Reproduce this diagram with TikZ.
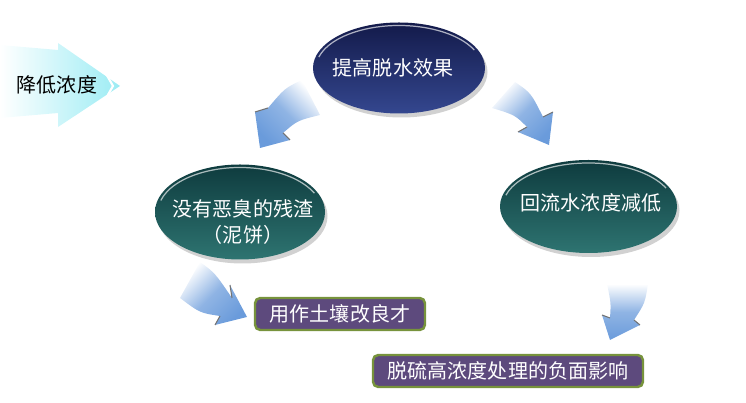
\documentclass[tikz,border=0pt]{standalone}
\usepackage{fontspec}
\setmainfont{Noto Sans CJK SC}
\usepackage{tikz}
\usetikzlibrary{shapes.geometric,shadows,calc}
\definecolor{dnavytop}{HTML}{131A4A}
\definecolor{dnavybot}{HTML}{34478F}
\definecolor{dtealtop}{HTML}{0E3B3E}
\definecolor{dtealbot}{HTML}{2E7471}
\definecolor{dblue}{HTML}{6A9BDB}
\definecolor{dcyan}{HTML}{9CECF4}
\definecolor{dpurple}{HTML}{5D4A7D}
\definecolor{dolive}{HTML}{77933C}
\tikzset{
  dtxt/.style={font=\fontsize{11.4}{15}\selectfont},
  dball/.style={ellipse, inner sep=0pt,
                drop shadow={shadow xshift=0.05cm, shadow yshift=-0.08cm,
                             opacity=0.18, fill=black}},
  dnavy/.style={dball, top color=dnavytop, bottom color=dnavybot},
  dteal/.style={dball, top color=dtealtop, bottom color=dtealbot},
  dlbl/.style={dtxt, text=white, align=center, inner sep=1pt},
  dtag/.style={rounded corners=3pt, fill=dpurple, draw=dolive, line width=1.4pt,
               text=white, dtxt, minimum height=0.64cm, inner sep=0pt},
  dglint/.style={white, opacity=0.65, line width=0.7pt},
  dedge/.style={black!55, line width=0.6pt},
  dflow/.style={top color=white, bottom color=dblue, middle color=dblue!75},
}

\begin{document}
\begin{tikzpicture}[x=1cm,y=1cm]

  \useasboundingbox (0,0) rectangle (14.92,8.06);

  % seta de entrada
  \shade[left color=white, right color=dcyan]
    (0,7.16) -- (1.16,7.06) -- (1.16,7.20) -- (2.40,6.34)
    -- (1.16,5.52) -- (1.16,5.80) -- (0,5.70) -- cycle;
  \draw[white, line width=1.2pt] (1.94,6.90) -- (2.26,6.34) -- (1.94,5.78);
  \node[dtxt] (reduce) at (1.14,6.36) {降低浓度};

  % setas curvas
  \shade[dflow, shading angle=-45]
    (6.04,6.46) .. controls (5.70,6.30) .. (5.36,5.90) -- (5.10,5.82)
    -- (5.20,5.10) -- (5.80,5.26) -- (5.66,5.40)
    .. controls (5.95,5.65) .. (6.40,5.76) -- cycle;
  \draw[dedge] (5.36,5.90) -- (5.10,5.82);
  \draw[dedge] (5.66,5.40) -- (5.80,5.26);

  \shade[dflow, shading angle=45]
    (10.30,6.42) .. controls (10.62,6.20) .. (10.86,5.72) -- (11.06,5.82)
    -- (10.98,5.16) -- (10.36,5.42) -- (10.54,5.52)
    .. controls (10.30,5.76) .. (9.84,5.90) -- cycle;
  \draw[dedge] (10.86,5.72) -- (11.06,5.82);
  \draw[dedge] (10.54,5.52) -- (10.36,5.42);

  \shade[dflow, shading angle=45]
    (4.00,2.82) .. controls (4.30,2.60) .. (4.64,2.10) -- (4.60,2.36)
    -- (4.94,1.72) -- (4.30,1.56) -- (4.40,1.74)
    .. controls (4.00,1.80) .. (3.60,2.10) -- cycle;
  \draw[dedge] (4.64,2.10) -- (4.60,2.36);
  \draw[dedge] (4.40,1.74) -- (4.30,1.56);

  \shade[dflow]
    (12.14,2.38) .. controls (12.22,2.00) .. (12.20,1.70) -- (12.04,1.76)
    -- (12.20,1.26) -- (12.80,1.56) -- (12.68,1.66)
    .. controls (12.90,2.00) .. (12.96,2.38) -- cycle;
  \draw[dedge] (12.20,1.70) -- (12.04,1.76);
  \draw[dedge] (12.68,1.66) -- (12.80,1.56);

  % elipses
  \node[dnavy, minimum width=3.44cm, minimum height=1.82cm] (effect) at (7.98,6.70) {};
  \node[dteal, minimum width=3.40cm, minimum height=1.90cm] (residue) at (4.80,3.82) {};
  \node[dteal, minimum width=3.54cm, minimum height=1.86cm] (backflow) at (11.77,3.93) {};

  \draw[dglint] ($(effect.center)+(165:1.66 and 0.85)$)
    arc[start angle=165, end angle=25, x radius=1.66, y radius=0.85];
  \draw[dglint] ($(residue.center)+(165:1.64 and 0.89)$)
    arc[start angle=165, end angle=25, x radius=1.64, y radius=0.89];
  \draw[dglint] ($(backflow.center)+(165:1.71 and 0.87)$)
    arc[start angle=165, end angle=25, x radius=1.71, y radius=0.87];

  \node[dlbl] (effectlbl) at (7.86,6.70) {提高脱水效果};
  \node[dlbl] (residuelbl) at (4.86,3.62) {没有恶臭的残渣\\（泥饼）};
  \node[dlbl] (backflowlbl) at (11.82,4.00) {回流水浓度减低};

  % caixas
  \node[dtag, minimum width=3.40cm] (soil) at (6.80,1.78) {用作土壤改良才};
  \node[dtag, minimum width=5.40cm] (impact) at (10.16,0.64) {脱硫高浓度处理的负面影响};

\end{tikzpicture}
\end{document}
